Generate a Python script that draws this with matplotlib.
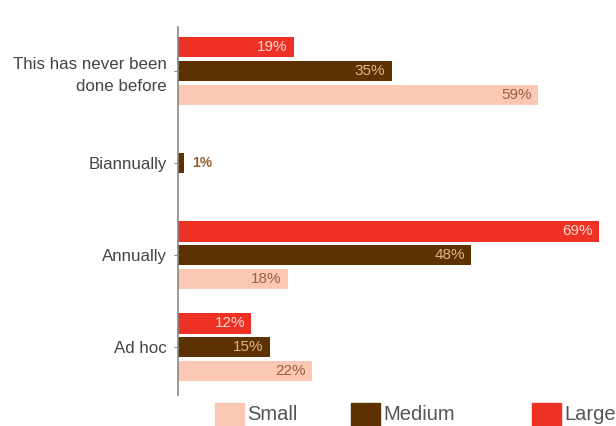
import numpy as np
import matplotlib.pyplot as plt

plt.rcParams['font.family'] = ['Liberation Sans', 'DejaVu Sans']

# ---------------- DATA ----------------
categories = ["This has never been\ndone before", "Biannually", "Annually", "Ad hoc"]
large = [19, 0, 69, 12]
medium = [35, 1, 48, 15]
small = [59, 0, 18, 22]
series_names = ["Small", "Medium", "Large"]

c_small = "#fbc8b3"
c_medium = "#5e3200"
c_large = "#ee3124"

# ---------------- PLOT ----------------
fig = plt.figure(figsize=(6.16, 4.26), dpi=100)
ax = fig.add_axes([178 / 616, 1 - 395 / 426, 427 / 616, 368 / 426])

y = np.arange(len(categories))
h = 0.225
off = 0.26

bl = ax.barh(y - off, large, height=h, color=c_large)
bm = ax.barh(y, medium, height=h, color=c_medium)
bs = ax.barh(y + off, small, height=h, color=c_small)

# value labels inside the bars (or just outside when tiny)
def label_bars(bars, vals, txt_color, outside_color):
    for b, v in zip(bars, vals):
        if v == 0:
            continue
        yc = b.get_y() + b.get_height() / 2
        if v < 5:
            ax.text(v + 1.3, yc, f"{v}%", va="center", ha="left",
                    fontsize=10, color=outside_color, fontweight="bold")
        else:
            ax.text(v - 1.0, yc, f"{v}%", va="center", ha="right",
                    fontsize=11, color=txt_color)

label_bars(bl, large, "#fcd9cd", c_medium)
label_bars(bm, medium, "#dcb68c", "#9a6030")
label_bars(bs, small, "#9a6040", c_medium)

ax.set_xlim(0, 70)
ax.set_ylim(3.52, -0.478)
ax.set_yticks(y)
ax.set_yticklabels(categories, fontsize=12.2, color="#444444", linespacing=1.55)
ax.tick_params(axis="y", length=3, color="#888888", pad=5)
ax.set_xticks([])
for s in ["top", "right", "bottom"]:
    ax.spines[s].set_visible(False)
ax.spines["left"].set_color("#888888")
ax.spines["left"].set_linewidth(1.2)

# legend along the bottom
leg_colors = [c_small, c_medium, c_large]
leg_x = [215, 351, 532]
for name, col, px in zip(series_names, leg_colors, leg_x):
    fig.patches.append(plt.Rectangle((px / 616, 1 - 428 / 426), 29 / 616, 25 / 426,
                                     transform=fig.transFigure, color=col))
    fig.text((px + 32) / 616, 1 - 415 / 426, name, fontsize=14.5,
             color="#555555", va="center", ha="left")

fig.savefig("out.png", dpi=100)
